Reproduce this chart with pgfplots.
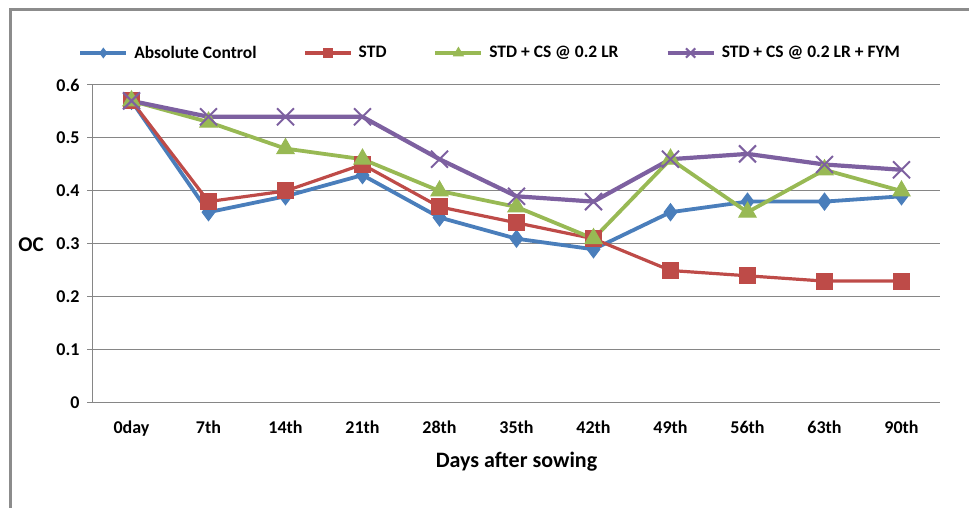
\documentclass[border=0pt]{standalone}
\usepackage{pgfplots}
\pgfplotsset{compat=1.18}
\usepackage{fontspec}
\setmainfont{Carlito}
\definecolor{cblue}{RGB}{74,126,187}
\definecolor{cred}{RGB}{190,75,72}
\definecolor{cgreen}{RGB}{152,185,84}
\definecolor{cpurple}{RGB}{125,96,160}
\definecolor{cgrid}{RGB}{134,134,134}
\definecolor{cframe}{RGB}{140,140,140}
\pgfplotsset{
  legend image code/.code={%
    \draw[mark repeat=2,mark phase=2,#1,/tikz/every mark/.append style={scale=0.55}]
      plot coordinates {(0pt,0pt) (23pt,0pt) (46pt,0pt)};}
}
\begin{document}
\begin{tikzpicture}[x=1pt,y=1pt]
\path[use as bounding box] (0,0) rectangle (969,508);
\draw[cframe, line width=3pt] (10,-5) -- (10,498) -- (969,498);
\begin{axis}[
  at={(93pt,105pt)}, anchor=south west,
  scale only axis, width=847pt, height=318pt,
  xmin=-0.5, xmax=10.5, ymin=0, ymax=0.6,
  axis lines*=left,
  axis line style={cgrid, line width=1pt},
  font=\fontsize{18}{21}\selectfont\bfseries,
  xtick={0,1,2,3,4,5,6,7,8,9,10},
  xticklabels={0day,7th,14th,21th,28th,35th,42th,49th,56th,63th,90th},
  xtick style={draw=none},
  minor xtick={-0.5,0.5,1.5,2.5,3.5,4.5,5.5,6.5,7.5,8.5,9.5,10.5},
  minor x tick style={cgrid, line width=1pt},
  minor tick length=6pt,
  ytick={0,0.1,0.2,0.3,0.4,0.5,0.6},
  yticklabels={0,0.1,0.2,0.3,0.4,0.5,0.6},
  ytick style={cgrid, line width=1pt},
  major tick length=6pt,
  tick align=outside,
  ymajorgrids,
  grid style={cgrid, line width=1pt},
  xticklabel style={font=\fontsize{18}{21}\selectfont\bfseries, yshift=-8pt},
  yticklabel style={font=\fontsize{18}{21}\selectfont\bfseries, xshift=-4pt},
  xlabel={Days after sowing},
  xlabel style={font=\fontsize{22}{26}\selectfont\bfseries, at={(axis description cs:0.5,-0.1855)}, anchor=center},
  ylabel={OC},
  ylabel style={font=\fontsize{21}{25}\selectfont\bfseries, at={(axis description cs:-0.0732,0.497)}, anchor=center, rotate=-90},
  legend columns=4,
  legend style={draw=none, fill=none, at={(axis description cs:0.469,1.1006)}, anchor=center,
    font=\fontsize{17.5}{21}\selectfont\bfseries,
    column sep=4pt,
    /tikz/every even column/.append style={column sep=45pt}},
  every axis plot/.append style={line width=3.8pt},
]
\addplot[cblue, mark=diamond*, mark size=8.5pt, mark options={fill=cblue, line width=1pt}]
  coordinates {(0,0.57) (1,0.36) (2,0.39) (3,0.43) (4,0.35) (5,0.31) (6,0.29) (7,0.36) (8,0.38) (9,0.38) (10,0.39)};
\addlegendentry{Absolute Control}
\addplot[cred, line width=3.2pt, mark=square*, mark size=8pt, mark options={fill=cred, line width=1pt}]
  coordinates {(0,0.57) (1,0.38) (2,0.40) (3,0.45) (4,0.37) (5,0.34) (6,0.31) (7,0.25) (8,0.24) (9,0.23) (10,0.23)};
\addlegendentry{STD}
\addplot[cgreen, mark=triangle*, mark size=10pt, mark options={fill=cgreen, line width=1pt}]
  coordinates {(0,0.57) (1,0.53) (2,0.48) (3,0.46) (4,0.40) (5,0.37) (6,0.31) (7,0.46) (8,0.36) (9,0.44) (10,0.40)};
\addlegendentry{STD + CS @ 0.2 LR}
\addplot[cpurple, line width=4.2pt, mark=x, mark size=12pt, mark options={line width=2pt}]
  coordinates {(0,0.57) (1,0.54) (2,0.54) (3,0.54) (4,0.46) (5,0.39) (6,0.38) (7,0.46) (8,0.47) (9,0.45) (10,0.44)};
\addlegendentry{STD + CS @ 0.2 LR + FYM}
\end{axis}
\end{tikzpicture}
\end{document}
